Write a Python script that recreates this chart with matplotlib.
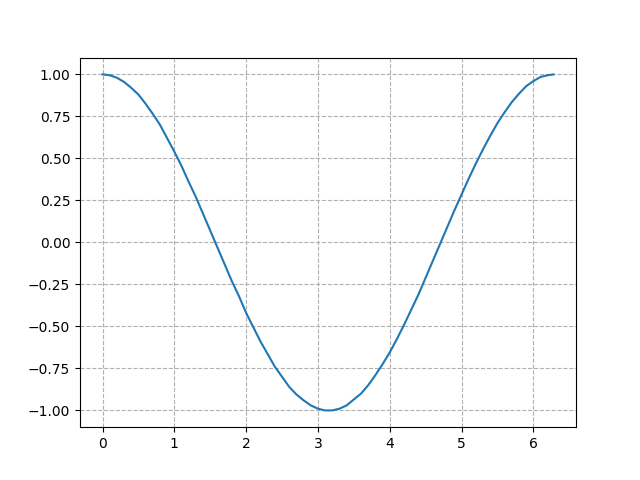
import matplotlib
matplotlib.use("Agg")
import matplotlib.pyplot as plt

# valori (passo 0.1)
x_vals = [0.0, 0.1, 0.2, 0.3, 0.4, 0.5, 0.6, 0.7, 0.8, 0.9,
          1.0, 1.1, 1.2, 1.3, 1.4, 1.5, 1.6, 1.7, 1.8, 1.9,
          2.0, 2.1, 2.2, 2.3, 2.4, 2.5, 2.6, 2.7, 2.8, 2.9,
          3.0, 3.1, 3.2, 3.3, 3.4, 3.5, 3.6, 3.7, 3.8, 3.9,
          4.0, 4.1, 4.2, 4.3, 4.4, 4.5, 4.6, 4.7, 4.8, 4.9,
          5.0, 5.1, 5.2, 5.3, 5.4, 5.5, 5.6, 5.7, 5.8, 5.9,
          6.0, 6.1, 6.2, 6.28]
y_vals = [1.00, 0.995, 0.98, 0.955, 0.92, 0.88, 0.825, 0.765, 0.70, 0.62,
          0.54, 0.455, 0.36, 0.27, 0.17, 0.07, -0.03, -0.13, -0.23, -0.32,
          -0.42, -0.505, -0.59, -0.665, -0.74, -0.80, -0.86, -0.905, -0.94, -0.97,
          -0.99, -1.00, -1.00, -0.99, -0.97, -0.935, -0.90, -0.85, -0.79, -0.725,
          -0.655, -0.575, -0.49, -0.40, -0.31, -0.21, -0.11, -0.01, 0.09, 0.19,
          0.285, 0.38, 0.47, 0.555, 0.635, 0.71, 0.775, 0.835, 0.885, 0.93,
          0.96, 0.985, 0.995, 1.00]

fig, ax = plt.subplots(figsize=(6.4, 4.8), dpi=100)
ax.plot(x_vals, y_vals)
ax.grid(True, linestyle="--")

fig.savefig("out.png")
